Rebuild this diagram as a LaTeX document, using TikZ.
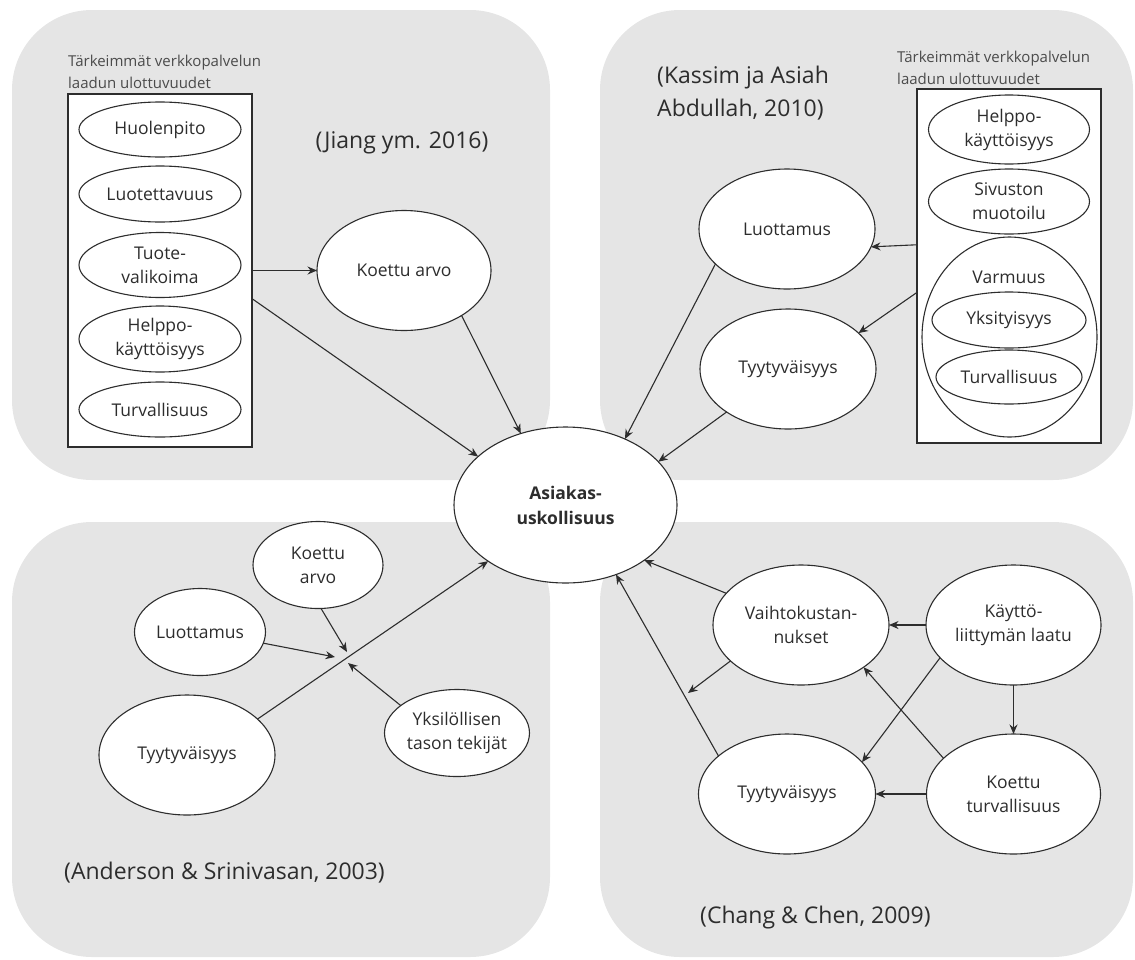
\documentclass[tikz,border=0pt]{standalone}
\usepackage{fontspec}
\setmainfont{Open Sans}
\usetikzlibrary{shapes.geometric,arrows.meta,calc}
\definecolor{panel}{RGB}{229,229,229}
\definecolor{ink}{RGB}{45,45,45}
\definecolor{headgray}{RGB}{75,75,75}
\newcommand\labfont{\fontsize{17.5}{24}\selectfont}
\newcommand\boldlabfont{\fontsize{17.5}{25}\selectfont\bfseries}
\newcommand\citefont{\fontsize{23}{33}\selectfont}
\newcommand\headfont{\fontsize{15}{22}\selectfont}
\begin{document}
\begin{tikzpicture}[x=1pt,y=-1pt,
  ov/.style={ellipse,draw=ink,fill=white,line width=1.1pt,inner sep=0pt,outer sep=0pt,text=ink,font=\labfont,align=center},
  bigov/.style={ov,minimum width=176pt,minimum height=120pt},
  smallov/.style={ov,minimum width=131pt,minimum height=87pt},
  frame/.style={draw=ink,fill=white,line width=1.1pt,inner sep=0pt,outer sep=0pt,minimum width=184pt},
  cite/.style={text=ink,font=\citefont,inner sep=0pt},
  head/.style={text=headgray,font=\headfont,inner sep=0pt,align=left,anchor=west},
  plain/.style={text=ink,font=\labfont,inner sep=0pt},
  arr/.style={draw=ink,line width=1.1pt,-{Stealth[length=9.5pt,width=8pt]}}]
\useasboundingbox (0,0) rectangle (1135,959);
% panels
\fill[panel,rounded corners=80pt] (12,10) rectangle (550,480);
\fill[panel,rounded corners=80pt] (600,10) rectangle (1133,480);
\fill[panel,rounded corners=80pt] (12,522) rectangle (550,957);
\fill[panel,rounded corners=80pt] (600,522) rectangle (1133,957);

% ---------- top left (Jiang) ----------
\node[head] (headL) at (68,72) {Tärkeimmät verkkopalvelun\\laadun ulottuvuudet};
\node[frame,minimum height=353pt] (boxL) at (160,270.5) {};
\node[ov,minimum width=162pt,minimum height=55pt] (huoL) at (160,129.5) {Huolenpito};
\node[ov,minimum width=162pt,minimum height=56pt] (luoL) at (160,194) {Luotettavuus};
\node[ov,minimum width=162pt,minimum height=65pt] (tuoL) at (160,265) {Tuote-\\valikoima};
\node[ov,minimum width=162pt,minimum height=66pt] (helL) at (160,339) {Helppo-\\käyttöisyys};
\node[ov,minimum width=162pt,minimum height=55pt] (turL) at (160,409.5) {Turvallisuus};
\node[cite] (citeTL) at (402,143) {(Jiang ym. 2016)};
\node[ov,minimum width=174pt,minimum height=120pt] (kaL) at (404,270.5) {Koettu arvo};

% ---------- centre ----------
\node[ov,minimum width=223pt,minimum height=156pt,font=\boldlabfont] (A) at (565.5,505) {Asiakas-\\uskollisuus};

% ---------- top right (Kassim) ----------
\node[cite,anchor=west,align=left] (citeTR) at (657,93.5) {(Kassim ja Asiah\\Abdullah, 2010)};
\node[head] (headR) at (897,68) {Tärkeimmät verkkopalvelun\\laadun ulottuvuudet};
\node[frame,minimum height=354pt] (boxR) at (1009,266) {};
\node[ov,minimum width=161pt,minimum height=69pt] (helR) at (1009,129.5) {Helppo-\\käyttöisyys};
\node[ov,minimum width=161pt,minimum height=65pt] (sivR) at (1009,201.5) {Sivuston\\muotoilu};
\node[ov,minimum width=175pt,minimum height=200pt] (varR) at (1009.5,337) {};
\node[plain] (varT) at (1009,277) {Varmuus};
\node[ov,minimum width=154pt,minimum height=56pt] (yksR) at (1009,320) {Yksityisyys};
\node[ov,minimum width=146pt,minimum height=54pt] (turR) at (1009,377) {Turvallisuus};
\node[bigov] (luR) at (787,229) {Luottamus};
\node[bigov] (tyR) at (788,369) {Tyytyväisyys};

% ---------- bottom left (Anderson) ----------
\node[ov,minimum width=130pt,minimum height=87pt] (kaB) at (318,565) {Koettu\\arvo};
\node[smallov] (luB) at (200,632) {Luottamus};
\node[bigov] (tyB) at (187,755) {Tyytyväisyys};
\node[ov,minimum width=145pt,minimum height=87pt] (ykB) at (457,733) {Yksilöllisen\\tason tekijät};
\node[cite,anchor=west] (citeBL) at (64,873) {(Anderson \& Srinivasan, 2003)};
\coordinate (j1) at (335,657);
\coordinate (j2) at (347,652);
\coordinate (j3) at (348,663);

% ---------- bottom right (Chang) ----------
\node[bigov] (vaB) at (801,625) {Vaihtokustan-\\nukset};
\node[ov,minimum width=175pt,minimum height=120pt] (kayB) at (1013.5,625) {Käyttö-\\liittymän laatu};
\node[ov,minimum width=177pt,minimum height=120pt] (tyBR) at (787,794) {Tyytyväisyys};
\node[ov,minimum width=174pt,minimum height=120pt] (ktB) at (1013.5,794) {Koettu\\turvallisuus};
\node[cite,anchor=west] (citeBR) at (700,918) {(Chang \& Chen, 2009)};
\coordinate (j4) at (688,693);

% ---------- connectors ----------
\draw[arr] (boxL.east) -- (kaL.west);
\draw[arr] (boxL.-17.8) -- (A.151.6);
\draw[arr] (kaL.-38) -- (A.122);

\draw[arr] (boxR.167.1) -- (luR.-12);
\draw[arr] (boxR.196.4) -- (tyR.27.2);
\draw[arr] (luR.206.3) -- (A.48);
\draw[arr] (tyR.215.5) -- (A.25);

\draw[arr] (tyB.27.5) -- (A.216.5);
\draw[arr] (luB.-10.5) -- (j1);
\draw[arr] (kaB.-86) -- (j2);
\draw[arr] (ykB.154.6) -- (j3);

\draw[arr] (vaB.157.8) -- (A.-35);
\draw[arr] (tyBR.151.8) -- (A.-54);
\draw[arr] (vaB.207.8) -- (j4);
\draw[arr] (kayB.west) -- (vaB.east);
\draw[arr] (kayB.204) -- (tyBR.23);
\draw[arr] (kayB.south) -- (ktB.north);
\draw[arr] (ktB.153.7) -- (vaB.-34.3);
\draw[arr] (ktB.west) -- (tyBR.east);
\end{tikzpicture}
\end{document}
